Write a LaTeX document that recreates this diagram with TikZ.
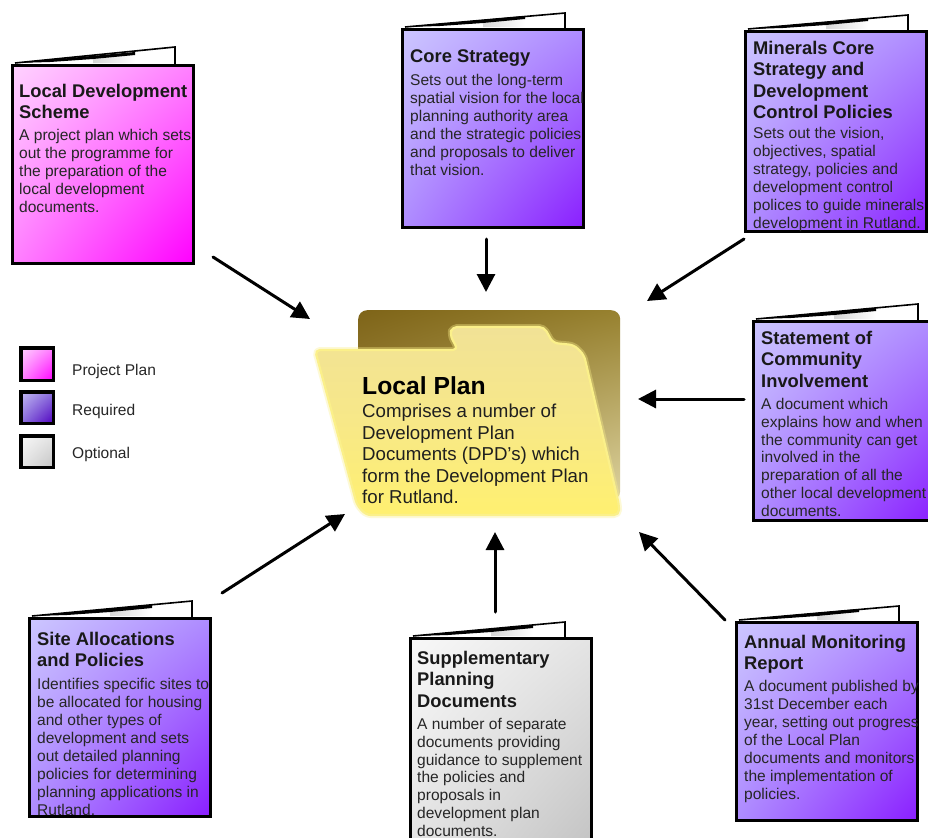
\documentclass[tikz,border=0pt]{standalone}
\usepackage{fontspec}
\setmainfont{Liberation Sans}
\usetikzlibrary{arrows.meta,shadings}
\definecolor{pinkA}{HTML}{FFD2FF}\definecolor{pinkB}{HTML}{FF80FF}\definecolor{pinkC}{HTML}{FF00FF}
\definecolor{purpA}{HTML}{CCC6FF}\definecolor{purpB}{HTML}{AE8CFF}\definecolor{purpC}{HTML}{8A1EFF}
\definecolor{greyA}{HTML}{F8F8F8}\definecolor{greyB}{HTML}{E4E4E4}\definecolor{greyC}{HTML}{C4C4C4}
\definecolor{legpA}{HTML}{C4BCF4}\definecolor{legpB}{HTML}{8A70DC}\definecolor{legpC}{HTML}{5000C0}
\definecolor{backA}{HTML}{7E6418}\definecolor{backB}{HTML}{97812F}\definecolor{backC}{HTML}{B39E58}\definecolor{backD}{HTML}{DDD3A0}
\definecolor{frontA}{HTML}{F1E296}\definecolor{frontB}{HTML}{F7E888}\definecolor{frontC}{HTML}{FFF070}
\definecolor{folderedge}{HTML}{FBF08A}
\tikzset{
  x=1bp,y=-1bp,
  pinkfill/.style={upper left=pinkA,upper right=pinkB,lower left=pinkB,lower right=pinkC},
  purplefill/.style={upper left=purpA,upper right=purpB,lower left=purpB,lower right=purpC},
  greyfill/.style={upper left=greyA,upper right=greyB,lower left=greyB,lower right=greyC},
  legendpurple/.style={upper left=legpA,upper right=legpB,lower left=legpB,lower right=legpC},
  cardbox/.style={draw=black,line width=3bp,inner sep=0,anchor=north west},
  legendbox/.style={draw=black,line width=3.5bp,inner sep=0,anchor=north west,minimum width=32.5bp},
  cardtitle/.style={anchor=north west,inner sep=0,align=left,font=\bfseries\fontsize{18.4}{21.5}\selectfont,text=black!90},
  cardbody/.style={anchor=north west,inner sep=0,align=left,font=\fontsize{15.6}{18}\selectfont,text=black!85},
  legendtext/.style={anchor=west,inner sep=0,font=\fontsize{15.6}{17}\selectfont,text=black!85},
  connector/.style={draw=black,line width=3bp,line cap=round,-{Triangle[length=18bp,width=18bp]}},
}
% name, x0, y0, x1, y1, flap right x, flap top y, fill style
\newcommand{\bookcard}[8]{%
  \fill[white] (#2+4,#3-1) -- (#6,#7) -- (#6,#3) -- cycle;
  \shade[left color=black!16,right color=white] (#2+82,#3-1) -- (#2+82,#3-5) -- (#2+124,#3-9) -- (#2+124,#3-1) -- cycle;
  \draw[black,line width=1.6bp,line join=miter] (#2+4,#3-1) -- (#6,#7) -- (#6,#3);
  \fill[black] (#2+4,#3-1) -- (#2+124,#3-12) -- (#2+124,#3-9) -- (#2+82,#3-5) -- (#2+39,#3-2) -- cycle;
  \node[cardbox,#8,minimum width={(#4-#2-3)*1bp},minimum height={(#5-#3-3)*1bp}] (#1) at (#2,#3) {};
}
% [raise of body], name, x, title top y, title, body
\newcommand{\cardtext}[6][0]{%
  \node[cardtitle] (#2title) at (#3,#4) {#5};
  \node[cardbody] (#2body) at ([yshift={(#1-10)*1bp}]#2title.south west) {#6};
}
\begin{document}
\begin{tikzpicture}
\useasboundingbox (0,0) rectangle (928,838);
\fill[white] (0,0) rectangle (928,838);
\begin{scope}
\clip (0,0) rectangle (928,838);

% folder
\node[inner sep=0,minimum width=262bp,minimum height=190bp,anchor=north west,rounded corners=9bp,upper left=backA,upper right=backB,lower left=backC,lower right=backD] (folderback) at (358,310) {};
\draw[folderedge,opacity=.35,line width=6bp,line join=round,rounded corners=5bp]
  (315,350) -- (458,350) -- (450,335) -- (452,327) -- (544,327) -- (553,343) -- (574,345) -- (584,355) -- (619,505) -- (619,515) -- (366,515) -- (357,505) -- cycle;
\path[draw=folderedge,line width=2.2bp,line join=round,rounded corners=5bp,top color=frontA,bottom color=frontC,middle color=frontB]
  (315,350) -- (458,350) -- (450,335) -- (452,327) -- (544,327) -- (553,343) -- (574,345) -- (584,355) -- (619,505) -- (619,515) -- (366,515) -- (357,505) -- cycle;
\node[anchor=north west,inner sep=0,font=\bfseries\fontsize{24.8}{27}\selectfont] (plantitle) at (362,376) {Local Plan};
\node[anchor=north west,inner sep=0,align=left,font=\fontsize{18.75}{21.6}\selectfont,text=black!88] (planbody) at (362,404) {Comprises a number of\\Development Plan\\Documents (DPD’s) which\\form the Development Plan\\for Rutland.};

% cards
\bookcard{lds}{11}{64}{195}{265}{175}{47}{pinkfill}
\cardtext{lds}{19}{84}{Local Development\\Scheme}{A project plan which sets\\out the programme for\\the preparation of the\\local development\\documents.}

\bookcard{core}{401}{28}{585}{229}{565}{13}{purplefill}
\cardtext[3]{core}{410}{50}{Core Strategy}{Sets out the long-term\\spatial vision for the local\\planning authority area\\and the strategic policies\\and proposals to deliver\\that vision.}

\bookcard{minerals}{744}{30}{928}{233}{908}{15}{purplefill}
\cardtext[2]{minerals}{753}{41}{Minerals Core\\Strategy and\\Development\\Control Policies}{\baselineskip=17.6bp Sets out the vision,\\objectives, spatial\\strategy, policies and\\development control\\polices to guide minerals\\development in Rutland.}

\bookcard{sci}{752}{320}{936}{522}{918}{304}{purplefill}
\cardtext{sci}{761}{331}{Statement of\\Community\\Involvement}{A document which\\explains how and when\\the community can get\\involved in the\\preparation of all the\\other local development\\documents.}

\bookcard{amr}{735}{621}{919}{822}{899}{606}{purplefill}
\cardtext[3.5]{amr}{744}{635}{Annual Monitoring\\Report}{A document published by\\31st December each\\year, setting out progress\\of the Local Plan\\documents and monitors\\the implementation of\\policies.}

\bookcard{spd}{409}{637}{593}{845}{565}{622}{greyfill}
\cardtext{spd}{417}{651}{Supplementary\\Planning\\Documents}{A number of separate\\documents providing\\guidance to supplement\\the policies and\\proposals in\\development plan\\documents.}

\bookcard{site}{28}{617}{212}{818}{192}{601}{purplefill}
\cardtext[-1]{site}{37}{632}{Site Allocations\\and Policies}{Identifies specific sites to\\be allocated for housing\\and other types of\\development and sets\\out detailed planning\\policies for determining\\planning applications in\\Rutland.}

% legend
\node[legendbox,pinkfill,minimum height=32.5bp] (legA) at (19,346) {};
\node[legendbox,legendpurple,minimum height=31.5bp] (legB) at (19,390) {};
\node[legendbox,greyfill,minimum height=31.5bp] (legC) at (19,434) {};
\node[legendtext] (legAt) at (72,371.5) {Project Plan};
\node[legendtext] (legBt) at (72,411) {Required};
\node[legendtext] (legCt) at (72,454) {Optional};

% connectors
\coordinate (a1) at (213,257); \coordinate (a2) at (310,319);
\coordinate (b1) at (486,239); \coordinate (b2) at (486,292);
\coordinate (c1) at (744,239); \coordinate (c2) at (647,301);
\coordinate (d1) at (744,399); \coordinate (d2) at (638,399);
\coordinate (e1) at (725,620); \coordinate (e2) at (639,532);
\coordinate (f1) at (495,612); \coordinate (f2) at (495,532);
\coordinate (g1) at (222,593); \coordinate (g2) at (345,514);
\foreach \s/\t in {a1/a2,b1/b2,c1/c2,d1/d2,e1/e2,f1/f2,g1/g2}
  \draw[connector] (\s) -- (\t);
\end{scope}
\end{tikzpicture}
\end{document}
